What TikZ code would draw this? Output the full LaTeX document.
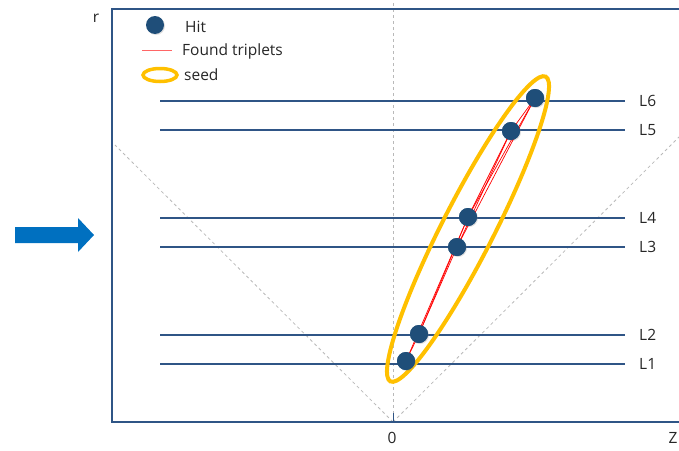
\documentclass[tikz,border=0pt]{standalone}
\usepackage{fontspec}
\setmainfont{Open Sans}
\usetikzlibrary{shadows}

\definecolor{frameblue}{HTML}{2F5586}
\definecolor{hitblue}{HTML}{1F4E79}
\definecolor{arrowblue}{HTML}{0070C0}
\definecolor{seedgold}{HTML}{FFC000}

\tikzset{
    layerline/.style={line width=1.6pt, frameblue},
    hitdot/.style={circle, fill=hitblue, minimum size=18pt, inner sep=0pt,
        drop shadow={opacity=0.25, shadow xshift=1pt, shadow yshift=-1pt}},
    triplet/.style={red, line width=0.7pt},
    seedring/.style={seedgold, line width=4pt},
    guide/.style={gray!55, dash pattern=on 3pt off 3pt, line width=0.8pt},
    lab/.style={font=\fontsize{15.5}{18}\selectfont, text=black!85, inner sep=0pt}
}

\begin{document}
\begin{tikzpicture}[x=1pt, y=-1pt]
    \useasboundingbox (0,0) rectangle (679,450);

    % --- Guide lines (dashed) ---
    \draw[guide] (393,3) -- (393,422);
    \draw[guide] (393,422) -- (115,145);
    \draw[guide] (393,422) -- (679,137);

    % --- Frame ---
    \draw[layerline] (679,9) -- (112,9) -- (112,422) -- (679,422);
    \draw[frameblue, line width=1pt] (393,413) -- (393,422);
    \node[lab] (rlab) at (96,18) {r};
    \node[lab] (zlab) at (673,438) {Z};
    \node[lab] (zero) at (392,438) {0};

    % --- Detector layers ---
    \foreach \name/\y in {L6/101, L5/130, L4/218, L3/247, L2/335, L1/364} {
        \draw[layerline] (160,\y) -- (625,\y);
        \node[lab, anchor=west] (lab\name) at (639,\y) {\name};
    }

    % --- Seed ---
    \draw[seedring] (468,229) ellipse [x radius=171pt, y radius=26pt, rotate=63];

    % --- Hits ---
    \node[hitdot] (h1) at (406,361) {};
    \node[hitdot] (h2) at (419,334) {};
    \node[hitdot] (h3) at (457,247) {};
    \node[hitdot] (h4) at (468,217) {};
    \node[hitdot] (h5) at (511,131) {};
    \node[hitdot] (h6) at (535,98) {};

    % --- Found triplets ---
    \draw[triplet] (h1.center) -- (h2.center);
    \draw[triplet] (h1.center) -- (h4.center);
    \draw[triplet] (h2.center) -- (h3.center);
    \draw[triplet] (h2.center) -- (h4.center);
    \draw[triplet] (h3.center) -- (h5.center);
    \draw[triplet] (h4.center) -- (h5.center);
    \draw[triplet] (h3.center) -- (h6.center);
    \draw[triplet] (h4.center) -- (h6.center);
    \draw[triplet] (h5.center) -- (h6.center);

    % redraw dots on top of the lines
    \foreach \i in {1,...,6} {
        \fill[hitblue] (h\i) circle (9pt);
    }

    % --- Legend ---
    \node[hitdot] (leghit) at (155,25) {};
    \node[lab, anchor=west] (leghittxt) at (185,27) {Hit};
    \coordinate (legline) at (142,50);
    \draw[red!60, line width=1pt] (legline) -- ++(30,0);
    \node[lab, anchor=west] (legtriptxt) at (182,51) {Found triplets};
    \draw[seedgold, line width=3.5pt] (160,75) ellipse [x radius=17pt, y radius=6.5pt];
    \node[lab, anchor=west] (legseedtxt) at (184,75) {seed};

    % --- Arrow ---
    \fill[arrowblue] (15,227) -- (78,227) -- (78,218) -- (94,235)
        -- (78,252) -- (78,243) -- (15,243) -- cycle;

\end{tikzpicture}
\end{document}
